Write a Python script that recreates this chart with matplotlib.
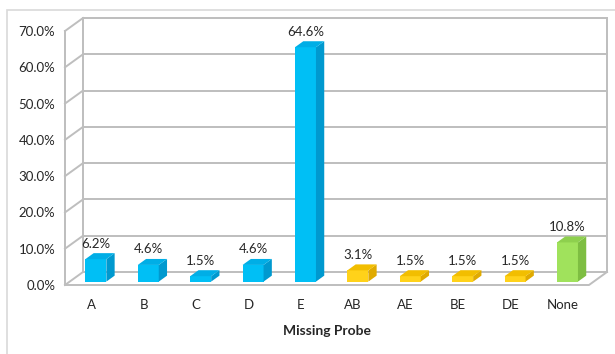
import matplotlib.pyplot as plt
from matplotlib.patches import Polygon, Rectangle

# data
categories = ['A', 'B', 'C', 'D', 'E', 'AB', 'AE', 'BE', 'DE', 'None']
values = [6.2, 4.6, 1.5, 4.6, 64.6, 3.1, 1.5, 1.5, 1.5, 10.8]
groups = ['single'] * 5 + ['double'] * 4 + ['none']
yticks = [0, 10, 20, 30, 40, 50, 60, 70]

# face colours (front, side, top) per group
colors = {
    'single': ('#00BFF5', '#0099CF', '#00AEE6'),
    'double': ('#FFD21A', '#E0AA00', '#F2BE00'),
    'none': ('#A0E25C', '#7EBE42', '#8ED04E'),
}

plt.rcParams['font.family'] = ['Lato', 'DejaVu Sans']

W, H = 615, 354
fig = plt.figure(figsize=(W / 100, H / 100), dpi=100)
# front floor: x 65..589 px, y 0% at 285 px, 70% at 31 px (from top)
ax = fig.add_axes([65 / W, (H - 285) / H, 524 / W, 254 / H])
ax.set_xlim(-0.5, len(categories) - 0.5)
ax.set_ylim(0, 70)
for s in ax.spines.values():
    s.set_visible(False)

# depth offset of the back wall in data units
DX = 18 / 52.4
DY = 13 / 3.63

def proj(x, y, d):
    return x + d * DX, y + d * DY

grid_c = '#BEBEBE'
lw = 1.4
x0, x1 = -0.5, len(categories) - 0.5

# back wall gridlines and left wall diagonals
for v in yticks:
    a = proj(x0, v, 1)
    b = proj(x1, v, 1)
    ax.plot([a[0], b[0]], [a[1], b[1]], color=grid_c, lw=lw, clip_on=False, zorder=1)
    c = proj(x0, v, 0)
    ax.plot([c[0], a[0]], [c[1], a[1]], color=grid_c, lw=lw, clip_on=False, zorder=1)

# wall edges
for d in (0, 1):
    p, q = proj(x0, 0, d), proj(x0, 70, d)
    ax.plot([p[0], q[0]], [p[1], q[1]], color=grid_c, lw=lw, clip_on=False, zorder=1)
p, q = proj(x1, 0, 1), proj(x1, 70, 1)
ax.plot([p[0], q[0]], [p[1], q[1]], color=grid_c, lw=lw, clip_on=False, zorder=1)

# floor front and right edges
p, q, r = proj(x0, 0, 0), proj(x1, 0, 0), proj(x1, 0, 1)
ax.plot([p[0], q[0], r[0]], [p[1], q[1], r[1]], color=grid_c, lw=lw, clip_on=False, zorder=1)

# bars: front face via ax.bar, side and top as polygons
bw = 0.4
f0, f1 = 0.26, 0.72
for i, (v, g) in enumerate(zip(values, groups)):
    front, side, top = colors[g]
    xl = i - bw / 2 + f0 * DX
    xr = xl + bw
    yb = f0 * DY
    yt = v + f0 * DY
    ddx = (f1 - f0) * DX
    ddy = (f1 - f0) * DY
    ax.bar(xl + bw / 2, v, width=bw, bottom=yb, color=front, zorder=3, clip_on=False)
    ax.add_patch(Polygon([(xr, yb), (xr + ddx, yb + ddy), (xr + ddx, yt + ddy), (xr, yt)],
                         closed=True, facecolor=side, edgecolor='none', zorder=3, clip_on=False))
    ax.add_patch(Polygon([(xl, yt), (xr, yt), (xr + ddx, yt + ddy), (xl + ddx, yt + ddy)],
                         closed=True, facecolor=top, edgecolor='none', zorder=3, clip_on=False))
    ax.annotate(f'{v:.1f}%', (xl + bw / 2, yt + ddy), xytext=(0, 2.5), textcoords='offset points',
                ha='center', va='bottom', fontsize=9.5, color='#262626', zorder=4)

ax.set_yticks(yticks)
ax.set_yticklabels([f'{v:.1f}%' for v in yticks])
ax.set_xticks(range(len(categories)))
ax.set_xticklabels(categories)
ax.tick_params(axis='y', length=0, pad=7, labelsize=9.5, labelcolor='#262626')
ax.tick_params(axis='x', length=0, pad=10, labelsize=9.5, labelcolor='#262626')
ax.set_xlabel('Missing Probe', fontsize=10, fontweight='bold', color='#262626', labelpad=10)

# outer chart border
fig.patches.append(Rectangle((7 / W, -0.1), 1.2, (H - 10) / H + 0.1, transform=fig.transFigure,
                             fill=False, edgecolor='#D9D9D9', lw=1.2))

fig.savefig('out.png', dpi=100)
